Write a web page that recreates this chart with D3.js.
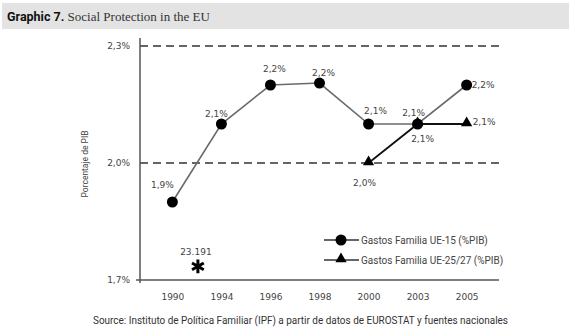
<!DOCTYPE html>
<html>
<head>
<meta charset="utf-8">
<script src="https://cdn.jsdelivr.net/npm/d3@7"></script>
<style>
  body { margin: 0; background: #fff; }
  svg { display: block; }
</style>
</head>
<body>
<div id="chart"></div>
<script>
// data
const years = ["1990", "1994", "1996", "1998", "2000", "2003", "2005"];
const ue15 = [1.9, 2.1, 2.2, 2.205, 2.1, 2.1, 2.2];
const ue25Years = ["2000", "2003", "2005"];
const ue25 = [2.0, 2.1, 2.1];
const yTicks = [1.7, 2.0, 2.3];
const seriesNames = ["Gastos Familia UE-15 (%PIB)", "Gastos Familia UE-25/27 (%PIB)"];
const noteLabel = "23.191";
const noteValue = 1.735;

// label placement (dx, dy baseline, anchor) per point
const ue15LabelPos = [[-10, -14, "middle"], [-5, -7, "middle"], [4, -13, "middle"], [4, -7, "middle"],
    [7, -10, "middle"], [-4, -8, "middle"], [5, 3, "start"]];
const ue25LabelPos = [[-4, 23, "middle"], [5, 18, "middle"], [6, 1, "start"]];

const W = 569, H = 332;
const margin = { top: 46, left: 140, right: 70, bottom: 52 };
const plotW = W - margin.left - margin.right;
const plotH = H - margin.top - margin.bottom;

const svg = d3.select("#chart").append("svg")
    .attr("width", W)
    .attr("height", H);

// title band
svg.append("rect")
    .attr("x", 2).attr("y", 3)
    .attr("width", W - 2).attr("height", 26)
    .attr("fill", "#e3e3e4");

const title = svg.append("text")
    .attr("x", 7).attr("y", 21)
    .style("font-size", "12.5px")
    .attr("fill", "#111");
title.append("tspan")
    .style("font-family", "Roboto, sans-serif")
    .style("font-weight", "bold")
    .text("Graphic 7.");
title.append("tspan")
    .style("font-family", "'Liberation Serif', serif")
    .style("font-size", "13px")
    .attr("fill", "#333")
    .text(" Social Protection in the EU");

const g = svg.append("g")
    .attr("transform", "translate(" + margin.left + "," + margin.top + ")");

const x = d3.scalePoint()
    .domain(years)
    .range([0, plotW])
    .padding(0.66);

const y = d3.scaleLinear()
    .domain([1.7, 2.3])
    .range([plotH, 0]);

const fmt = v => d3.format(".1f")(v).replace(".", ",") + "%";

// dashed gridlines
g.selectAll(".grid")
    .data(yTicks.filter(d => d > 1.7))
    .enter().append("line")
    .attr("class", "grid")
    .attr("x1", 0).attr("x2", plotW)
    .attr("y1", d => y(d)).attr("y2", d => y(d))
    .attr("stroke", "#333")
    .attr("stroke-width", 1.3)
    .attr("stroke-dasharray", "8,5");

// y axis
const yAxis = g.append("g")
    .call(d3.axisLeft(y).tickValues(yTicks).tickSize(0).tickPadding(10).tickFormat(fmt));
yAxis.select(".domain").remove();
yAxis.selectAll("text")
    .style("font-family", "'DejaVu Sans', sans-serif")
    .style("font-size", "9px")
    .attr("fill", "#444");

g.append("line")
    .attr("x1", 0).attr("x2", 0)
    .attr("y1", -8).attr("y2", plotH + 3)
    .attr("stroke", "#555")
    .attr("stroke-width", 1.5);

// x axis
const xAxis = g.append("g")
    .attr("transform", "translate(0," + plotH + ")")
    .call(d3.axisBottom(x).tickSize(0).tickPadding(14));
xAxis.select(".domain").remove();
xAxis.selectAll("text")
    .style("font-family", "'DejaVu Sans', sans-serif")
    .style("font-size", "9px")
    .attr("fill", "#444");

g.append("line")
    .attr("x1", -4).attr("x2", plotW)
    .attr("y1", plotH).attr("y2", plotH)
    .attr("stroke", "#555")
    .attr("stroke-width", 1.5);

// y axis title
svg.append("text")
    .attr("transform", "translate(88," + 164 + ") rotate(-90)")
    .attr("text-anchor", "middle")
    .style("font-family", "Roboto, sans-serif")
    .style("font-size", "8.5px")
    .attr("fill", "#444")
    .text("Porcentaje de PIB");

const line = d3.line()
    .x(d => x(d.year))
    .y(d => y(d.value));

const s15 = years.map((yr, i) => ({ year: yr, value: ue15[i], pos: ue15LabelPos[i] }));
const s25 = ue25Years.map((yr, i) => ({ year: yr, value: ue25[i], pos: ue25LabelPos[i] }));

g.append("path")
    .datum(s15)
    .attr("d", line)
    .attr("fill", "none")
    .attr("stroke", "#6a6a6a")
    .attr("stroke-width", 1.6);

g.append("path")
    .datum(s25)
    .attr("d", line)
    .attr("fill", "none")
    .attr("stroke", "#111")
    .attr("stroke-width", 1.8);

g.selectAll(".dot")
    .data(s15)
    .enter().append("circle")
    .attr("class", "dot")
    .attr("cx", d => x(d.year))
    .attr("cy", d => y(d.value))
    .attr("r", 5.5)
    .attr("fill", "#000");

const tri = d3.symbol().type(d3.symbolTriangle).size(55);

g.selectAll(".tri")
    .data(s25)
    .enter().append("path")
    .attr("class", "tri")
    .attr("d", tri)
    .attr("transform", d => "translate(" + x(d.year) + "," + (y(d.value) - 1) + ")")
    .attr("fill", "#000");

function addLabels(data, cls) {
    g.selectAll("." + cls)
        .data(data)
        .enter().append("text")
        .attr("class", cls)
        .attr("x", d => x(d.year) + d.pos[0])
        .attr("y", d => y(d.value) + d.pos[1])
        .attr("text-anchor", d => d.pos[2])
        .style("font-family", "'DejaVu Sans', sans-serif")
        .style("font-size", "9px")
        .attr("fill", "#444")
        .text(d => fmt(d.value));
}
addLabels(s15, "lab15");
addLabels(s25, "lab25");

// asterisk note between 1990 and 1994
const noteX = (x(years[0]) + x(years[1])) / 2 + 1;
const asterisk = d3.symbolAsterisk || d3.symbolCross;
g.append("path")
    .attr("d", d3.symbol().type(asterisk).size(130))
    .attr("transform", "translate(" + noteX + "," + y(noteValue) + ")")
    .attr("fill", "none")
    .attr("stroke", "#000")
    .attr("stroke-width", 3);
g.append("text")
    .attr("x", noteX - 2)
    .attr("y", y(noteValue) - 11)
    .attr("text-anchor", "middle")
    .style("font-family", "'DejaVu Sans', sans-serif")
    .style("font-size", "9px")
    .attr("fill", "#444")
    .text(noteLabel);

// legend
const legend = svg.append("g").attr("transform", "translate(324,240)");
seriesNames.forEach((name, i) => {
    const row = legend.append("g").attr("transform", "translate(0," + i * 20 + ")");
    row.append("line")
        .attr("x1", 0).attr("x2", 35)
        .attr("stroke", "#333")
        .attr("stroke-width", 1.5);
    if (i === 0) {
        row.append("circle").attr("cx", 17).attr("r", 5.5).attr("fill", "#000");
    } else {
        row.append("path").attr("d", tri).attr("transform", "translate(17,-1)").attr("fill", "#000");
    }
    row.append("text")
        .attr("x", 37).attr("y", 3.5)
        .style("font-family", "Roboto, sans-serif")
        .style("font-size", "10px")
        .attr("fill", "#444")
        .text(name);
});

// source
svg.append("text")
    .attr("x", 93).attr("y", 324)
    .attr("textLength", 415)
    .attr("lengthAdjust", "spacingAndGlyphs")
    .style("font-family", "Roboto, sans-serif")
    .style("font-size", "10px")
    .attr("fill", "#333")
    .text("Source: Instituto de Política Familiar (IPF) a partir de datos de EUROSTAT y fuentes nacionales");
</script>
</body>
</html>
